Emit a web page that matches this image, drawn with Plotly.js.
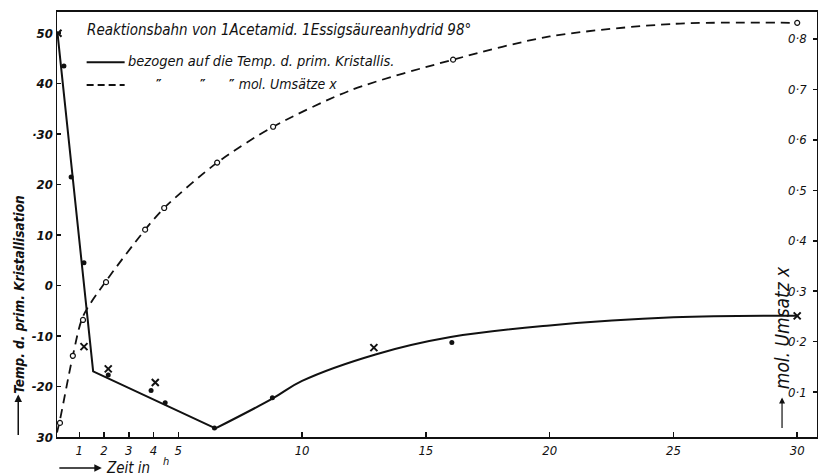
<!DOCTYPE html>
<html><head><meta charset="utf-8">
<script src="https://cdn.plot.ly/plotly-3.0.1.min.js"></script>
<style>body{margin:0;background:#fff}#c{width:818px;height:476px}</style>
</head><body><div id="c"></div>
<script>
// Temperatur der primären Kristallisation (linke Achse)
const tempLineX = [0.12, 1.56, 6.5];
const tempLineY = [50, -17, -28.3];
const tempCurveX = [6.5, 8.8, 10, 13, 16, 20, 25, 30];
const tempCurveY = [-28.3, -22.4, -18.9, -13.6, -10.2, -7.9, -6.3, -6];
const tempDotX = [0.38, 0.67, 1.19, 2.17, 3.9, 4.47, 6.46, 8.8, 16.05];
const tempDotY = [43.5, 21.5, 4.5, -17.7, -20.8, -23.2, -28.2, -22.2, -11.3];
const tempCrossX = [0.14, 1.19, 2.17, 4.07, 12.9, 30];
const tempCrossY = [50, -12.1, -16.5, -19.2, -12.3, -6];
// mol. Umsatz x (rechte Achse)
const umsatzCurveX = [0.1, 0.22, 0.74, 1.15, 2.08, 3.66, 4.43, 6.57, 8.83, 12, 16.1, 20, 25, 30];
const umsatzCurveY = [0.02, 0.045, 0.172, 0.25, 0.32, 0.422, 0.465, 0.555, 0.626, 0.699, 0.759, 0.805, 0.83, 0.832];
const umsatzCircleX = [0.22, 0.74, 1.15, 2.08, 3.66, 4.43, 6.57, 8.83, 16.1, 30];
const umsatzCircleY = [0.039, 0.172, 0.243, 0.318, 0.422, 0.465, 0.555, 0.626, 0.759, 0.832];
// Achsenbeschriftungen
const xTickVals = [1, 2, 3, 4, 5, 10, 15, 20, 25, 30];
const xTickText = ['1', '2', '3', '4', '5', '10', '15', '20', '25', '30'];
const yTickVals = [50, 40, 30, 20, 10, 0, -10, -20, -30];
const yTickText = ['50', '40', '·30', '20', '10', '0', '-10', '-20', '30'];
const y2TickVals = [0.1, 0.2, 0.3, 0.4, 0.5, 0.6, 0.7, 0.8];
const y2TickText = ['0·1', '0·2', '0·3', '0·4', '0·5', '0·6', '0·7', '0·8'];

const F = 'DejaVu Sans Condensed, DejaVu Sans, sans-serif';
const K = '#111';

const traces = [
  {x: tempLineX, y: tempLineY, mode: 'lines', line: {color: K, width: 2}, hoverinfo: 'skip'},
  {x: tempCurveX, y: tempCurveY, mode: 'lines', line: {color: K, width: 2, shape: 'spline', smoothing: 1.1}, hoverinfo: 'skip'},
  {x: tempDotX, y: tempDotY, mode: 'markers', marker: {color: K, size: 5, symbol: 'circle'}},
  {x: tempCrossX, y: tempCrossY, mode: 'markers', marker: {color: K, size: 7, symbol: 'x-thin-open', line: {color: K, width: 2}}},
  {x: umsatzCurveX, y: umsatzCurveY, yaxis: 'y2', mode: 'lines', line: {color: K, width: 1.8, dash: '9px,6px', shape: 'spline', smoothing: 0.8}, hoverinfo: 'skip'},
  {x: umsatzCircleX, y: umsatzCircleY, yaxis: 'y2', mode: 'markers', marker: {color: '#fff', size: 5, symbol: 'circle', line: {color: K, width: 1.2}}}
];

const y2Labels = y2TickVals.map((v, i) => ({
  xref: 'paper', yref: 'y2', x: 1, y: v, xanchor: 'right', yanchor: 'middle', xshift: -8,
  showarrow: false, text: '<i>' + y2TickText[i] + '</i>', font: {family: F, size: 13, color: K}
}));

const layout = {
  width: 818, height: 476,
  margin: {l: 57, r: 1, t: 12, b: 39},
  paper_bgcolor: '#fff', plot_bgcolor: '#fff',
  showlegend: false,
  font: {family: F, color: K, size: 13},
  xaxis: {
    range: [0.1, 30.8], showgrid: false, zeroline: false,
    showline: true, linecolor: K, linewidth: 2, mirror: true,
    ticks: 'inside', ticklen: 5, tickwidth: 1.5, tickcolor: K,
    tickvals: xTickVals, ticktext: xTickText,
    tickfont: {family: F, size: 13, style: 'italic', color: K}
  },
  yaxis: {
    range: [-30, 54.2], showgrid: false, zeroline: false,
    showline: true, linecolor: K, linewidth: 1.5, mirror: true,
    ticks: 'inside', ticklen: 4, tickwidth: 1.5, tickcolor: K,
    tickvals: yTickVals, ticktext: yTickText,
    tickfont: {family: F, size: 13, style: 'italic', weight: 'bold', color: K}
  },
  yaxis2: {
    overlaying: 'y', side: 'right', range: [0.011, 0.8535],
    showgrid: false, zeroline: false, showline: false,
    ticks: 'inside', ticklen: 4, tickwidth: 1.5, tickcolor: K,
    showticklabels: false,
    tickvals: y2TickVals
  },
  shapes: [
    {type: 'line', xref: 'paper', yref: 'paper', x0: 0.039, x1: 0.089, y0: 0.882, y1: 0.882, line: {color: K, width: 2}},
    {type: 'line', xref: 'paper', yref: 'paper', x0: 0.039, x1: 0.089, y0: 0.828, y1: 0.828, line: {color: K, width: 2, dash: '7px,4px'}}
  ],
  annotations: [
    {xref: 'paper', yref: 'paper', x: 0.037, y: 0.957, xanchor: 'left', yanchor: 'middle', showarrow: false,
     text: '<i>Reaktionsbahn von 1Acetamid. 1Essigsäureanhydrid 98°</i>', font: {family: F, size: 15, color: K}},
    {xref: 'paper', yref: 'paper', x: 0.091, y: 0.884, xanchor: 'left', yanchor: 'middle', showarrow: false,
     text: '<i>bezogen auf die Temp. d. prim. Kristallis.</i>', font: {family: F, size: 14.5, color: K}},
    {xref: 'paper', yref: 'paper', x: 0.127, y: 0.830, xanchor: 'left', yanchor: 'middle', showarrow: false,
     text: '<b>″</b>', font: {family: F, size: 14, color: K}},
    {xref: 'paper', yref: 'paper', x: 0.186, y: 0.830, xanchor: 'left', yanchor: 'middle', showarrow: false,
     text: '<b>″</b>', font: {family: F, size: 14, color: K}},
    {xref: 'paper', yref: 'paper', x: 0.224, y: 0.830, xanchor: 'left', yanchor: 'middle', showarrow: false,
     text: '<b>″</b><i> mol. Umsätze x</i>', font: {family: F, size: 14, color: K}},
    // linke Achsenbeschriftung
    {xref: 'paper', yref: 'paper', x: -0.051, y: 0.335, xanchor: 'center', yanchor: 'middle', showarrow: false,
     textangle: -90, text: '<i><b>Temp. d. prim. Kristallisation</b></i>', font: {family: F, size: 13.5, color: K}},
    {xref: 'paper', yref: 'paper', x: -0.051, y: 0.1, showarrow: true, arrowhead: 2, arrowsize: 1, arrowwidth: 1.5,
     arrowcolor: K, ax: 0, ay: 42, text: ''},
    // rechte Achsenbeschriftung
    {xref: 'paper', yref: 'paper', x: 0.954, y: 0.256, xanchor: 'center', yanchor: 'middle', showarrow: false,
     textangle: -90, text: '<i>mol. Umsatz x</i>', font: {family: F, size: 19, color: K}},
    {xref: 'paper', yref: 'paper', x: 0.954, y: 0.093, showarrow: true, arrowhead: 2, arrowsize: 1, arrowwidth: 1.2,
     arrowcolor: K, ax: 0, ay: 32, text: ''},
    // x-Achsenbeschriftung
    {xref: 'paper', yref: 'paper', x: 0.059, y: -0.073, showarrow: true, arrowhead: 2, arrowsize: 1, arrowwidth: 1.5,
     arrowcolor: K, ax: -44, ay: 0, text: ''},
    {xref: 'paper', yref: 'paper', x: 0.062, y: -0.073, xanchor: 'left', yanchor: 'middle', showarrow: false,
     text: '<i>Zeit in</i>', font: {family: F, size: 15, color: K}},
    {xref: 'paper', yref: 'paper', x: 0.137, y: -0.058, xanchor: 'left', yanchor: 'middle', showarrow: false,
     text: '<i>h</i>', font: {family: F, size: 11, color: K}}
  ].concat(y2Labels)
};

Plotly.newPlot('c', traces, layout, {staticPlot: true});
</script>
</body></html>
